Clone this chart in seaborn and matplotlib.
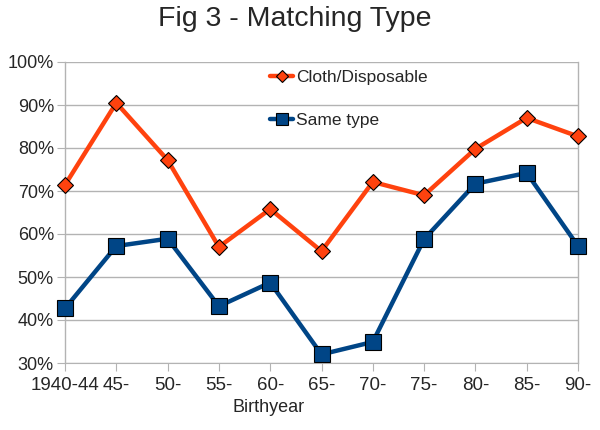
import numpy as np
import pandas as pd
import matplotlib
matplotlib.use('Agg')
import matplotlib.pyplot as plt
import seaborn as sns

years = ['1940-44', '45-', '50-', '55-', '60-', '65-', '70-', '75-', '80-', '85-', '90-']
cloth = [71.4, 90.5, 77.2, 57.0, 65.8, 56.0, 72.1, 69.0, 79.8, 87.0, 82.7]
same = [42.7, 57.2, 58.9, 43.2, 48.7, 32.0, 34.9, 58.8, 71.7, 74.2, 57.2]

df = pd.DataFrame({'Birthyear': years * 2,
                   'val': cloth + same,
                   'series': ['Cloth/Disposable'] * len(years) + ['Same type'] * len(years)})

sns.set_style('white')
plt.rcParams['font.family'] = ['Liberation Sans', 'DejaVu Sans']

fig = plt.figure(figsize=(6, 4.3), dpi=100)
ax = fig.add_axes([65/600, 67/430, 513/600, 301/430])

palette = {'Cloth/Disposable': '#ff420e', 'Same type': '#004586'}
markers = {'Cloth/Disposable': 'D', 'Same type': 's'}
sizes = {'Cloth/Disposable': 8, 'Same type': 11}
for name in ['Cloth/Disposable', 'Same type']:
    sns.lineplot(data=df[df['series'] == name], x='Birthyear', y='val',
                 color=palette[name], marker=markers[name], markersize=sizes[name],
                 markeredgecolor='black', markeredgewidth=0.8, linewidth=3.2,
                 label=name, ax=ax, zorder=3, clip_on=False)

ax.set_xlim(0, len(years) - 1)
ax.set_ylim(30, 100)
ax.set_yticks(np.arange(30, 101, 10))
ax.set_yticklabels([f'{v}%' for v in range(30, 101, 10)])
ax.grid(axis='y', color='#b3b3b3', linewidth=1)
ax.set_axisbelow(True)
for s in ['left', 'right']:
    ax.spines[s].set_color('#b3b3b3')
    ax.spines[s].set_linewidth(1)
ax.spines['top'].set_visible(False)
ax.spines['bottom'].set_color('#b3b3b3')
ax.tick_params(axis='x', length=6, color='#b3b3b3', labelsize=13.5, pad=4, bottom=True)
ax.tick_params(axis='y', length=6, color='#b3b3b3', labelsize=13, pad=2, left=True)
ax.set_xlabel('Birthyear', fontsize=13, labelpad=4)
ax.xaxis.set_label_coords(0.397, -0.12)
ax.set_ylabel('')
fig.suptitle('Fig 3 - Matching Type', fontsize=20.5, x=0.492, y=0.985, va='top')

leg = ax.legend(frameon=False, loc='upper left', bbox_to_anchor=(0.37, 1.025),
                fontsize=12.5, labelspacing=1.6, handlelength=1.3, handletextpad=0.2)
for h, ms in zip(leg.legend_handles, [6, 9]):
    h.set_markersize(ms)

fig.savefig('out.png', dpi=100)
